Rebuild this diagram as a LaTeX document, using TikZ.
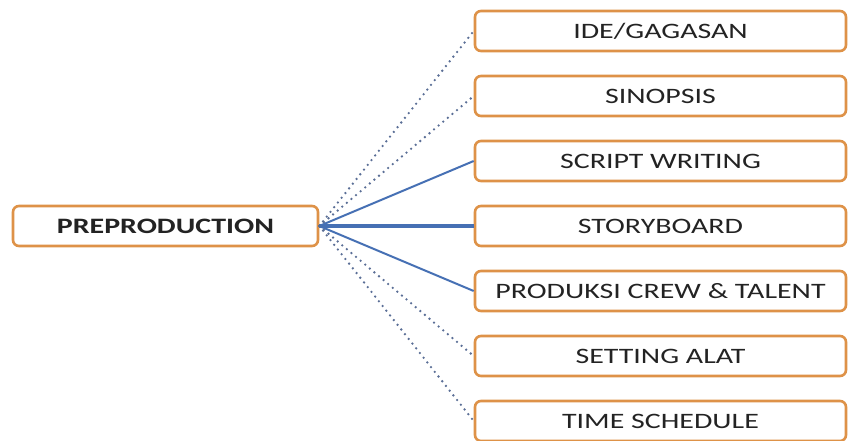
\documentclass[tikz,border=0pt]{standalone}
\usepackage{fontspec}
\setmainfont[FakeStretch=1.36]{Carlito}
\usetikzlibrary{positioning}
\definecolor{boxline}{RGB}{222,146,72}
\definecolor{linkblue}{RGB}{70,112,180}
\definecolor{dotblue}{RGB}{90,110,150}
\definecolor{textgray}{RGB}{35,35,35}

\begin{document}
\begin{tikzpicture}[x=1pt,y=1pt,node distance=65pt,
    step box/.style={rectangle, rounded corners=6pt, draw=boxline, line width=2.6pt, fill=white, text=textgray, minimum height=40pt, font=\fontsize{22}{24}\selectfont},
    main box/.style={step box, minimum width=305pt, font=\fontsize{22}{24}\selectfont\bfseries},
    sub box/.style={step box, minimum width=371pt},
    dot link/.style={dotblue, line width=2.6pt, line cap=round, dash pattern=on 0pt off 6pt},
    solid link/.style={linkblue, line width=2pt}]

            \useasboundingbox (0,0) rectangle (848,-441);

            \node[main box] (pre) at (165.5,-226) {PREPRODUCTION};

            \node[sub box] (ide) at (660.5,-31) {IDE/GAGASAN};
            \node[sub box] (sinopsis) [below of=ide] {SINOPSIS};
            \node[sub box] (script) [below of=sinopsis] {SCRIPT WRITING};
            \node[sub box] (story) [below of=script] {STORYBOARD};
            \node[sub box] (crew) [below of=story] {PRODUKSI CREW \& TALENT};
            \node[sub box] (alat) [below of=crew] {SETTING ALAT};
            \node[sub box] (jadwal) [below of=alat] {TIME SCHEDULE};

            \path
                (pre.east) edge[dot link] (ide.west)
                (pre.east) edge[dot link] (sinopsis.west)
                (pre.east) edge[solid link] (script.west)
                (pre.east) edge[solid link, line width=3.6pt] (story.west)
                (pre.east) edge[solid link] (crew.west)
                (pre.east) edge[dot link] (alat.west)
                (pre.east) edge[dot link] (jadwal.west)
                ;
\end{tikzpicture}
\end{document}
